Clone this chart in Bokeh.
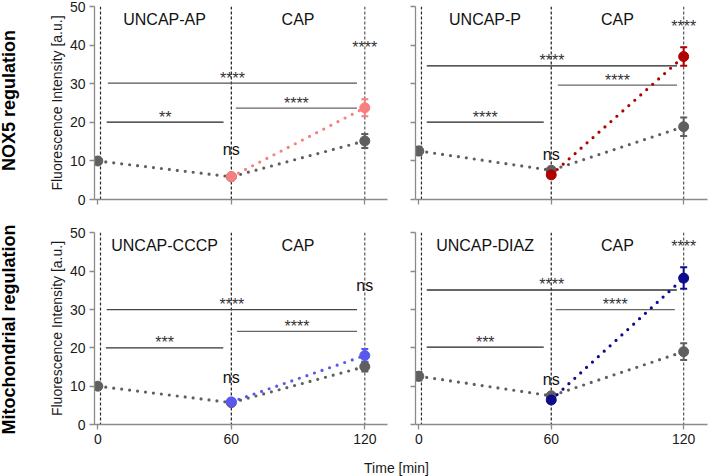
import math
from bokeh.plotting import figure
from bokeh.layouts import row, column
from bokeh.models import Range1d, Span, Label, Whisker, TeeHead, ColumnDataSource, FixedTicker
from bokeh.embed import file_html
from bokeh.resources import INLINE

FONT = "Liberation Sans"

# ---------------- data ----------------
times = [0, 60, 120]
cap_times = [60, 120]
time_ticks = [0, 60, 120]
intensity_ticks = [0, 10, 20, 30, 40, 50]

row_titles = ["NOX5 regulation", "Mitochondrial regulation"]
panel_titles = ["UNCAP-AP", "UNCAP-P", "UNCAP-CCCP", "UNCAP-DIAZ"]
phase_label = "CAP"
x_title = "Time [min]"
y_title = "Fluorescence Intensity [a.u.]"

# control (grey) series: mean and error at 0, 60, 120 min
ctrl_ap = [10.0, 5.9, 15.2]
ctrl_ap_err = [0.6, 0.5, 1.8]
ctrl_p = [12.6, 7.6, 18.9]
ctrl_p_err = [1.1, 0.6, 2.4]
ctrl_cccp = [10.0, 5.7, 15.1]
ctrl_cccp_err = [0.6, 0.5, 1.3]
ctrl_diaz = [12.6, 7.5, 19.0]
ctrl_diaz_err = [1.1, 0.6, 2.2]

# CAP (coloured) series: mean and error at 60, 120 min
cap_ap = [5.9, 23.8]
cap_ap_err = [0.5, 2.2]
cap_p = [6.4, 37.1]
cap_p_err = [0.8, 2.4]
cap_cccp = [5.9, 18.0]
cap_cccp_err = [0.5, 1.7]
cap_diaz = [6.4, 38.2]
cap_diaz_err = [0.8, 2.8]

# significance brackets: start, end, height, label
sig_ap_x0 = [4.0, 4.5, 62.0]
sig_ap_x1 = [56.5, 116.5, 116.5]
sig_ap_y = [20.1, 30.2, 23.7]
sig_ap_txt = ["**", "****", "****"]
sig_p_x0 = [3.6, 3.6, 63.0]
sig_p_x1 = [56.6, 117.0, 117.0]
sig_p_y = [20.1, 34.7, 29.7]
sig_p_txt = ["****", "****", "****"]
sig_cccp_x0 = [3.6, 4.0, 62.5]
sig_cccp_x1 = [56.4, 116.5, 116.5]
sig_cccp_y = [20.0, 30.0, 24.3]
sig_cccp_txt = ["***", "****", "****"]
sig_diaz_x0 = [3.6, 3.6, 62.0]
sig_diaz_x1 = [56.6, 116.9, 116.0]
sig_diaz_y = [20.2, 35.1, 30.0]
sig_diaz_txt = ["***", "****", "****"]

# labels above the 60 and 120 min points
mid_txt = ["ns", "ns", "ns", "ns"]
mid_y = [13.0, 11.8, 12.3, 11.7]
end_txt = ["****", "****", "ns", "****"]
end_y = [40.0, 45.4, 36.2, 46.9]

GRAY = "#5f5f5f"
AXIS = "#8a8a8a"


def make_panel(ctrl, ctrl_err, cap, cap_err, color, sx0, sx1, sy, stxt, sig_cols,
               title, mtxt, my, etxt, ey, left, bottom):
    bl = 70 if left else 14
    br = 14 if left else 1
    fw = 293 if left else 292
    bb = 28 if bottom else 27
    fh = 192 if bottom else 193
    xmax = 130.2 if left else 130.8
    p = figure(width=bl + fw + br, height=6 + fh + bb,
               x_range=Range1d(-1.5, xmax), y_range=Range1d(0, 50.1),
               output_backend="svg", toolbar_location=None, title=None,
               min_border_left=bl, min_border_right=br,
               min_border_top=6, min_border_bottom=bb)
    p.outline_line_color = None
    p.xgrid.visible = False
    p.ygrid.visible = False
    p.background_fill_color = "white"

    if bottom:
        p.xaxis.ticker = FixedTicker(ticks=time_ticks)
    else:
        p.xaxis.ticker = FixedTicker(ticks=[], minor_ticks=time_ticks)
    if left:
        p.yaxis.ticker = FixedTicker(ticks=intensity_ticks)
    else:
        p.yaxis.ticker = FixedTicker(ticks=[], minor_ticks=intensity_ticks)
    for ax in (p.xaxis, p.yaxis):
        ax.axis_line_color = AXIS
        ax.axis_line_width = 1.3
        ax.major_tick_line_color = AXIS
        ax.major_tick_line_width = 1.3
        ax.major_tick_in = 0
        ax.major_tick_out = 5
        ax.minor_tick_line_color = AXIS
        ax.minor_tick_line_width = 1.3
        ax.minor_tick_in = 0
        ax.minor_tick_out = 5
        ax.major_label_text_font = FONT
        ax.major_label_text_font_size = "14px"
        ax.major_label_text_color = "#1a1a1a"
        ax.major_label_standoff = 4
    if left:
        p.yaxis.axis_label = y_title
        p.yaxis.axis_label_text_font = FONT
        p.yaxis.axis_label_text_font_size = "14px"
        p.yaxis.axis_label_text_font_style = "normal"
        p.yaxis.axis_label_text_color = "#1a1a1a"
        p.yaxis.axis_label_standoff = 2

    for loc, col in ((1.2, "#2a2a2a"), (60, "#1a1a1a"), (120, "#555555")):
        p.add_layout(Span(location=loc, dimension="height", line_color=col,
                          line_width=1.2, line_dash="3 2", level="underlay"))

    # significance brackets
    for x0, x1, y, t, c in zip(sx0, sx1, sy, stxt, sig_cols):
        p.segment(x0=[x0], y0=[y], x1=[x1], y1=[y], line_color=c, line_width=1.3)
        p.add_layout(Label(x=(x0 + x1) / 2, y=y, text=t, text_align="center",
                           text_baseline="middle", y_offset=5,
                           text_font=FONT, text_font_size="16px", text_color="#333333"))

    # control series
    p.line(times, ctrl, line_color=GRAY, line_width=3.2, line_dash="0 8", line_cap="round")
    src = ColumnDataSource(dict(base=times,
                                upper=[m + e for m, e in zip(ctrl, ctrl_err)],
                                lower=[m - e for m, e in zip(ctrl, ctrl_err)]))
    p.add_layout(Whisker(source=src, base="base", upper="upper", lower="lower",
                         dimension="height", line_color=GRAY, line_width=2,
                         upper_head=TeeHead(size=7, line_color=GRAY, line_width=2),
                         lower_head=TeeHead(size=7, line_color=GRAY, line_width=2)))
    p.scatter(times, ctrl, size=10, fill_color=GRAY, line_color=GRAY)

    # CAP series
    p.line(cap_times, cap, line_color=color, line_width=3.2, line_dash="0 8", line_cap="round")
    src2 = ColumnDataSource(dict(base=cap_times,
                                 upper=[m + e for m, e in zip(cap, cap_err)],
                                 lower=[m - e for m, e in zip(cap, cap_err)]))
    p.add_layout(Whisker(source=src2, base="base", upper="upper", lower="lower",
                         dimension="height", line_color=color, line_width=2,
                         upper_head=TeeHead(size=7, line_color=color, line_width=2),
                         lower_head=TeeHead(size=7, line_color=color, line_width=2)))
    p.scatter(cap_times, cap, size=10, fill_color=color, line_color=color)

    # texts
    p.add_layout(Label(x=30, y=46.6, text=title, text_align="center", text_baseline="middle",
                       text_font=FONT, text_font_size="16px", text_color="#111111"))
    p.add_layout(Label(x=90, y=46.6, text=phase_label, text_align="center", text_baseline="middle",
                       text_font=FONT, text_font_size="16px", text_color="#111111"))
    p.add_layout(Label(x=60, y=my, text=mtxt, text_align="center", text_baseline="middle",
                       text_font=FONT, text_font_size="16px", text_color="#111111"))
    if etxt == "ns":
        p.add_layout(Label(x=120, y=ey, text=etxt, text_align="center", text_baseline="middle",
                           text_font=FONT, text_font_size="16px", text_color="#111111"))
    else:
        p.add_layout(Label(x=120, y=ey, text=etxt, text_align="center", text_baseline="middle",
                           y_offset=-2, text_font=FONT, text_font_size="16px",
                           text_color="#333333"))
    return p


tl = make_panel(ctrl_ap, ctrl_ap_err, cap_ap, cap_ap_err, "#f77f7f",
                sig_ap_x0, sig_ap_x1, sig_ap_y, sig_ap_txt, ["#222222", "#555555", "#666666"],
                panel_titles[0], mid_txt[0], mid_y[0], end_txt[0], end_y[0], True, False)
tr = make_panel(ctrl_p, ctrl_p_err, cap_p, cap_p_err, "#b00000",
                sig_p_x0, sig_p_x1, sig_p_y, sig_p_txt, ["#222222", "#222222", "#666666"],
                panel_titles[1], mid_txt[1], mid_y[1], end_txt[1], end_y[1], False, False)
bl = make_panel(ctrl_cccp, ctrl_cccp_err, cap_cccp, cap_cccp_err, "#5858ee",
                sig_cccp_x0, sig_cccp_x1, sig_cccp_y, sig_cccp_txt, ["#333333", "#444444", "#666666"],
                panel_titles[2], mid_txt[2], mid_y[2], end_txt[2], end_y[2], True, True)
br = make_panel(ctrl_diaz, ctrl_diaz_err, cap_diaz, cap_diaz_err, "#0c0c8c",
                sig_diaz_x0, sig_diaz_x1, sig_diaz_y, sig_diaz_txt, ["#222222", "#333333", "#666666"],
                panel_titles[3], mid_txt[3], mid_y[3], end_txt[3], end_y[3], False, True)

# row titles column
lab = figure(width=24, height=452, x_range=Range1d(0, 24), y_range=Range1d(0, 452),
             output_backend="svg", toolbar_location=None, title=None,
             x_axis_type=None, y_axis_type=None, min_border=0)
lab.outline_line_color = None
lab.xgrid.visible = False
lab.ygrid.visible = False
lab.add_layout(Label(x=8, y=352, text=row_titles[0], angle=math.pi / 2, text_align="center",
                     text_baseline="middle", text_font=FONT, text_font_size="18px",
                     text_font_style="bold", text_color="#000000"))
lab.add_layout(Label(x=8, y=123, text=row_titles[1], angle=math.pi / 2, text_align="center",
                     text_baseline="middle", text_font=FONT, text_font_size="18px",
                     text_font_style="bold", text_color="#000000"))

# x title strip
tf = figure(width=708, height=24, x_range=Range1d(0, 708), y_range=Range1d(0, 24),
            output_backend="svg", toolbar_location=None, title=None,
            x_axis_type=None, y_axis_type=None, min_border=0)
tf.outline_line_color = None
tf.xgrid.visible = False
tf.ygrid.visible = False
tf.add_layout(Label(x=396, y=9, text=x_title, text_align="center", text_baseline="middle",
                    text_font=FONT, text_font_size="14px", text_color="#1a1a1a"))

layout = column(row(lab, column(row(tl, tr), row(bl, br))), tf)

open("out.html", "w").write(file_html(layout, INLINE))
